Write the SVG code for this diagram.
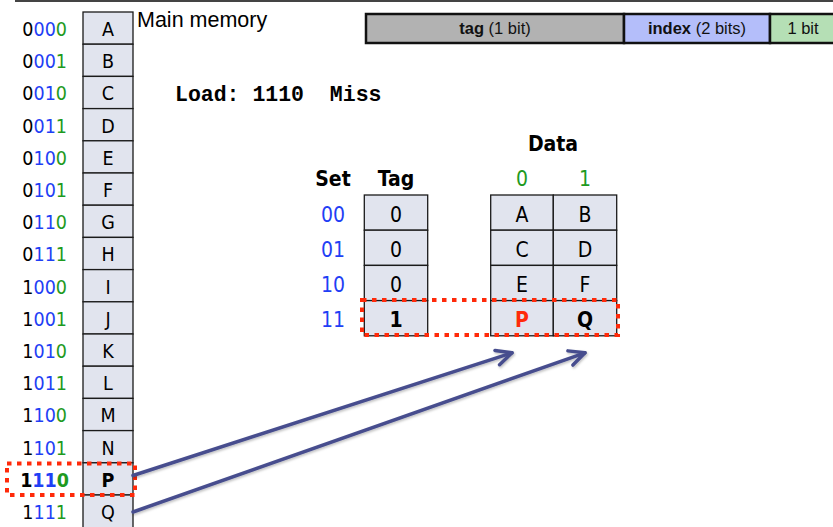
<svg xmlns="http://www.w3.org/2000/svg" width="833" height="527" viewBox="0 0 833 527">
<style>
.cell{fill:#e1e4ee;stroke:#1a1a1a;stroke-width:1.3}
.t{font-family:"DejaVu Sans Condensed","DejaVu Sans",sans-serif;font-size:19.5px;fill:#000}
.c{font-family:"DejaVu Sans Condensed","DejaVu Sans",sans-serif;font-size:21px;fill:#000}
.mid{text-anchor:middle}
.end{text-anchor:end}
.bd{font-weight:bold}
.bl{fill:#1f3ff5}
.gr{fill:#1e9a1e}
.rd{fill:#ff2a0a}
.redbox{fill:none;stroke:#ff2a0a;stroke-width:4;stroke-dasharray:4.5 5.5}
.arrow{fill:none;stroke:#474e8e;stroke-width:3.5;stroke-linecap:round}
.bar{stroke:#111;stroke-width:2.5}
.bt{font-family:"Liberation Sans",Arial,sans-serif;font-size:16.5px;fill:#111;text-anchor:middle}
</style>
<defs>
<marker id="ah" viewBox="0 0 20 20" refX="18" refY="10" markerWidth="20" markerHeight="20" markerUnits="userSpaceOnUse" orient="auto">
<path d="M2.5,2.5 L18,10 L2.5,17.5" fill="none" stroke="#474e8e" stroke-width="3.5" stroke-linecap="round" stroke-linejoin="round"/>
</marker>
<filter id="sh" x="-10%" y="-10%" width="120%" height="130%">
<feDropShadow dx="1" dy="1.5" stdDeviation="1" flood-color="#000" flood-opacity="0.25"/>
</filter>
</defs>

<line x1="15" y1="1" x2="833" y2="1" stroke="#444" stroke-width="2"/>

<g id="address-bar">
<rect x="366" y="14" width="258" height="29" fill="#b2b2b2" class="bar"/>
<rect x="624" y="14" width="146" height="29" fill="#b4befa" class="bar"/>
<rect x="770" y="14" width="70" height="29" fill="#b5dfb5" class="bar"/>
<text class="bt" x="495" y="34"><tspan font-weight="bold">tag</tspan> (1 bit)</text>
<text class="bt" x="697" y="34"><tspan font-weight="bold">index</tspan> (2 bits)</text>
<text class="bt" x="803" y="34">1 bit</text>
</g>

<text x="137" y="26.7" font-family="Liberation Sans, Arial, sans-serif" font-size="21.5" fill="#000">Main memory</text>
<text x="175" y="100.5" font-family="Liberation Mono, Courier New, monospace" font-size="21.5" font-weight="bold" fill="#000" style="white-space:pre">Load: 1110  Miss</text>

<g id="memory">
<g id="mem-0000"><rect class="cell" x="83" y="12" width="50" height="32.2"/><text class="t end" x="67" y="36">0<tspan class="bl">00</tspan><tspan class="gr">0</tspan></text><text class="t mid" x="108" y="36">A</text></g>
<g id="mem-0001"><rect class="cell" x="83" y="44.2" width="50" height="32.2"/><text class="t end" x="67" y="68.2">0<tspan class="bl">00</tspan><tspan class="gr">1</tspan></text><text class="t mid" x="108" y="68.2">B</text></g>
<g id="mem-0010"><rect class="cell" x="83" y="76.4" width="50" height="32.2"/><text class="t end" x="67" y="100.4">0<tspan class="bl">01</tspan><tspan class="gr">0</tspan></text><text class="t mid" x="108" y="100.4">C</text></g>
<g id="mem-0011"><rect class="cell" x="83" y="108.6" width="50" height="32.2"/><text class="t end" x="67" y="132.6">0<tspan class="bl">01</tspan><tspan class="gr">1</tspan></text><text class="t mid" x="108" y="132.6">D</text></g>
<g id="mem-0100"><rect class="cell" x="83" y="140.8" width="50" height="32.2"/><text class="t end" x="67" y="164.8">0<tspan class="bl">10</tspan><tspan class="gr">0</tspan></text><text class="t mid" x="108" y="164.8">E</text></g>
<g id="mem-0101"><rect class="cell" x="83" y="173" width="50" height="32.2"/><text class="t end" x="67" y="197">0<tspan class="bl">10</tspan><tspan class="gr">1</tspan></text><text class="t mid" x="108" y="197">F</text></g>
<g id="mem-0110"><rect class="cell" x="83" y="205.2" width="50" height="32.2"/><text class="t end" x="67" y="229.2">0<tspan class="bl">11</tspan><tspan class="gr">0</tspan></text><text class="t mid" x="108" y="229.2">G</text></g>
<g id="mem-0111"><rect class="cell" x="83" y="237.4" width="50" height="32.2"/><text class="t end" x="67" y="261.4">0<tspan class="bl">11</tspan><tspan class="gr">1</tspan></text><text class="t mid" x="108" y="261.4">H</text></g>
<g id="mem-1000"><rect class="cell" x="83" y="269.6" width="50" height="32.2"/><text class="t end" x="67" y="293.6">1<tspan class="bl">00</tspan><tspan class="gr">0</tspan></text><text class="t mid" x="108" y="293.6">I</text></g>
<g id="mem-1001"><rect class="cell" x="83" y="301.8" width="50" height="32.2"/><text class="t end" x="67" y="325.8">1<tspan class="bl">00</tspan><tspan class="gr">1</tspan></text><text class="t mid" x="108" y="325.8">J</text></g>
<g id="mem-1010"><rect class="cell" x="83" y="334" width="50" height="32.2"/><text class="t end" x="67" y="358">1<tspan class="bl">01</tspan><tspan class="gr">0</tspan></text><text class="t mid" x="108" y="358">K</text></g>
<g id="mem-1011"><rect class="cell" x="83" y="366.2" width="50" height="32.2"/><text class="t end" x="67" y="390.2">1<tspan class="bl">01</tspan><tspan class="gr">1</tspan></text><text class="t mid" x="108" y="390.2">L</text></g>
<g id="mem-1100"><rect class="cell" x="83" y="398.4" width="50" height="32.2"/><text class="t end" x="67" y="422.4">1<tspan class="bl">10</tspan><tspan class="gr">0</tspan></text><text class="t mid" x="108" y="422.4">M</text></g>
<g id="mem-1101"><rect class="cell" x="83" y="430.6" width="50" height="32.2"/><text class="t end" x="67" y="454.6">1<tspan class="bl">10</tspan><tspan class="gr">1</tspan></text><text class="t mid" x="108" y="454.6">N</text></g>
<g id="mem-1110"><rect class="cell" x="83" y="462.8" width="50" height="32.2"/><text class="t end bd" x="69" y="486.8">1<tspan class="bl">11</tspan><tspan class="gr">0</tspan></text><text class="t mid bd" x="108" y="486.8">P</text></g>
<g id="mem-1111"><rect class="cell" x="83" y="495" width="50" height="33"/><text class="t end" x="67" y="519">1<tspan class="bl">11</tspan><tspan class="gr">1</tspan></text><text class="t mid" x="108" y="519">Q</text></g>
<rect id="mem-highlight" class="redbox" x="7" y="463.5" width="128" height="31.5"/>
</g>

<g id="cache">
<text class="c mid bd" x="553" y="150.7">Data</text>
<text class="c mid bd" x="333" y="185.7">Set</text>
<text class="c mid bd" x="396" y="185.7">Tag</text>
<text class="c mid gr" x="522" y="185.7">0</text>
<text class="c mid gr" x="585" y="185.7">1</text>
<g id="set-00">
<text class="c end bl" x="345" y="221.7">00</text>
<rect class="cell" x="364.3" y="195" width="63.4" height="35.2"/><text class="c mid" x="396" y="221.7">0</text>
<rect class="cell" x="490.7" y="195" width="62.6" height="35.2"/><text class="c mid" x="522" y="221.7">A</text>
<rect class="cell" x="553.3" y="195" width="63.4" height="35.2"/><text class="c mid" x="585" y="221.7">B</text>
</g>
<g id="set-01">
<text class="c end bl" x="345" y="256.9">01</text>
<rect class="cell" x="364.3" y="230.2" width="63.4" height="35.2"/><text class="c mid" x="396" y="256.9">0</text>
<rect class="cell" x="490.7" y="230.2" width="62.6" height="35.2"/><text class="c mid" x="522" y="256.9">C</text>
<rect class="cell" x="553.3" y="230.2" width="63.4" height="35.2"/><text class="c mid" x="585" y="256.9">D</text>
</g>
<g id="set-10">
<text class="c end bl" x="345" y="292.1">10</text>
<rect class="cell" x="364.3" y="265.4" width="63.4" height="35.2"/><text class="c mid" x="396" y="292.1">0</text>
<rect class="cell" x="490.7" y="265.4" width="62.6" height="35.2"/><text class="c mid" x="522" y="292.1">E</text>
<rect class="cell" x="553.3" y="265.4" width="63.4" height="35.2"/><text class="c mid" x="585" y="292.1">F</text>
</g>
<g id="set-11">
<text class="c end bl" x="345" y="327.3">11</text>
<rect class="cell" x="364.3" y="300.6" width="63.4" height="35.2"/><text class="c mid bd" x="396" y="327.3">1</text>
<rect class="cell" x="490.7" y="300.6" width="62.6" height="35.2"/><text class="c mid bd rd" x="522" y="327.3">P</text>
<rect class="cell" x="553.3" y="300.6" width="63.4" height="35.2"/><text class="c mid bd" x="585" y="327.3">Q</text>
</g>
<rect id="cache-highlight" class="redbox" x="362" y="300" width="256" height="35"/>
</g>

<g id="connectors" filter="url(#sh)">
<line class="arrow" x1="133" y1="475.5" x2="512" y2="352.8" marker-end="url(#ah)"/>
<line class="arrow" x1="133" y1="512" x2="585" y2="352.8" marker-end="url(#ah)"/>
</g>
</svg>
